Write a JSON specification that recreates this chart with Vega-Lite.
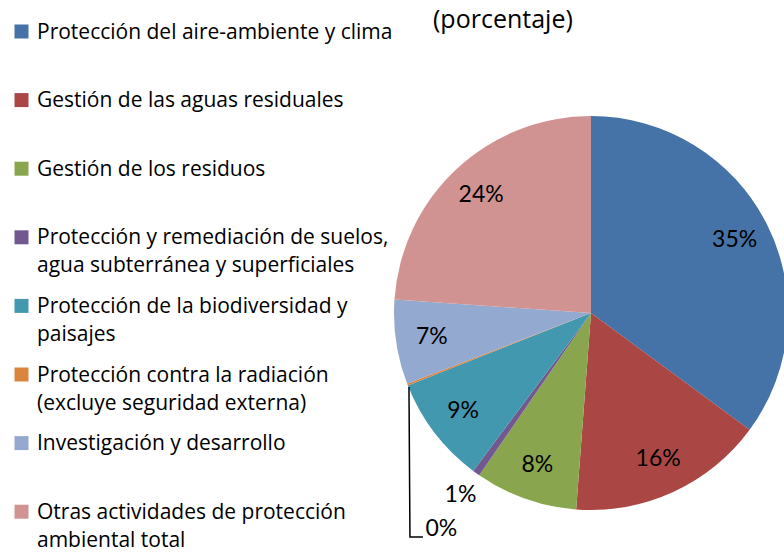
{
  "$schema": "https://vega.github.io/schema/vega-lite/v6.json",
  "autosize": "none",
  "width": 394,
  "height": 394,
  "padding": {"left": 394, "top": 116, "right": 0, "bottom": 42},
  "background": "white",
  "title": {"text": "(porcentaje)", "anchor": "start", "frame": "group", "dx": 39, "offset": 0, "dy": 32, "baseline": "alphabetic", "font": "Open Sans", "fontSize": 25, "fontWeight": "normal", "color": "#000000"},
  "config": {"view": {"stroke": null}},
  "datasets": {
    "gasto": [
      {"orden": 1, "categoria": "Protección del aire-ambiente y clima", "valor": 0.351},
      {"orden": 2, "categoria": "Gestión de las aguas residuales", "valor": 0.161},
      {"orden": 3, "categoria": "Gestión de los residuos", "valor": 0.084},
      {"orden": 4, "categoria": "Protección y remediación de suelos, agua subterránea y superficiales", "valor": 0.006},
      {"orden": 5, "categoria": "Protección de la biodiversidad y paisajes", "valor": 0.088},
      {"orden": 6, "categoria": "Protección contra la radiación (excluye seguridad externa)", "valor": 0.0015},
      {"orden": 7, "categoria": "Investigación y desarrollo", "valor": 0.0695},
      {"orden": 8, "categoria": "Otras actividades de protección ambiental total", "valor": 0.239}
    ],
    "guia": [
      {"paso": 1, "ux": -0.924, "uy": -0.376},
      {"paso": 2, "ux": -0.919, "uy": -1.137},
      {"paso": 3, "ux": -0.853, "uy": -1.137}
    ]
  },
  "layer": [
    {
      "data": {"name": "gasto"},
      "mark": {"type": "arc"},
      "encoding": {
        "theta": {"field": "valor", "type": "quantitative", "stack": true},
        "order": {"field": "orden", "type": "quantitative"},
        "color": {
          "field": "categoria", "type": "nominal",
          "scale": {
            "domain": ["Protección del aire-ambiente y clima", "Gestión de las aguas residuales", "Gestión de los residuos", "Protección y remediación de suelos, agua subterránea y superficiales", "Protección de la biodiversidad y paisajes", "Protección contra la radiación (excluye seguridad externa)", "Investigación y desarrollo", "Otras actividades de protección ambiental total"],
            "range": ["#4572A7", "#AA4643", "#89A54E", "#71588F", "#4198AF", "#DB843D", "#93A9CF", "#D19392"]
          },
          "legend": {
            "orient": "none", "legendX": -383, "legendY": -95, "padding": 0, "title": null,
            "symbolType": "square", "symbolSize": 196, "symbolStrokeWidth": 0, "symbolOffset": 0,
            "labelFont": "Open Sans", "labelFontSize": 21, "labelColor": "#000000", "labelLimit": 400,
            "labelOffset": 5, "labelBaseline": "alphabetic", "rowPadding": 18.6,
            "labelExpr": "datum.label == 'Protección y remediación de suelos, agua subterránea y superficiales' ? ['\u00a0Protección y remediación de suelos,', 'agua subterránea y superficiales'] : datum.label == 'Protección de la biodiversidad y paisajes' ? ['\u00a0Protección de la biodiversidad y', 'paisajes'] : datum.label == 'Protección contra la radiación (excluye seguridad externa)' ? ['\u00a0Protección contra la radiación', '(excluye seguridad externa)'] : datum.label == 'Otras actividades de protección ambiental total' ? ['\u00a0Otras actividades de protección', 'ambiental total'] : ['\u00a0' + datum.label, '']",
            "encode": {"labels": {"update": {"dy": {"value": 7}, "lineHeight": {"value": 28}}}}
          }
        }
      }
    },
    {
      "data": {"name": "gasto"},
      "mark": {"type": "text", "radius": 161, "font": "Lato", "fontSize": 23, "color": "#000000"},
      "encoding": {
        "theta": {"field": "valor", "type": "quantitative", "stack": true},
        "order": {"field": "orden", "type": "quantitative"},
        "text": {"condition": {"test": "datum.valor >= 0.05", "field": "valor", "type": "quantitative", "format": ".0%"}, "value": ""}
      }
    },
    {
      "data": {"name": "gasto"},
      "mark": {"type": "text", "radius": 224, "font": "Lato", "fontSize": 23, "color": "#000000"},
      "encoding": {
        "theta": {"field": "valor", "type": "quantitative", "stack": true},
        "order": {"field": "orden", "type": "quantitative"},
        "text": {"condition": {"test": "datum.orden == 4", "field": "valor", "type": "quantitative", "format": ".0%"}, "value": ""}
      }
    },
    {
      "data": {"name": "gasto"},
      "mark": {"type": "text", "radius": 210, "dx": 46, "dy": 140, "font": "Lato", "fontSize": 23, "color": "#000000"},
      "encoding": {
        "theta": {"field": "valor", "type": "quantitative", "stack": true},
        "order": {"field": "orden", "type": "quantitative"},
        "text": {"condition": {"test": "datum.orden == 6", "field": "valor", "type": "quantitative", "format": ".0%"}, "value": ""}
      }
    },
    {
      "data": {"name": "guia"},
      "mark": {"type": "line", "color": "#000000", "strokeWidth": 1.5},
      "encoding": {
        "x": {"field": "ux", "type": "quantitative", "scale": {"domain": [-1, 1], "nice": false, "zero": false}, "axis": null},
        "y": {"field": "uy", "type": "quantitative", "scale": {"domain": [-1, 1], "nice": false, "zero": false}, "axis": null},
        "order": {"field": "paso", "type": "quantitative"}
      }
    }
  ]
}
